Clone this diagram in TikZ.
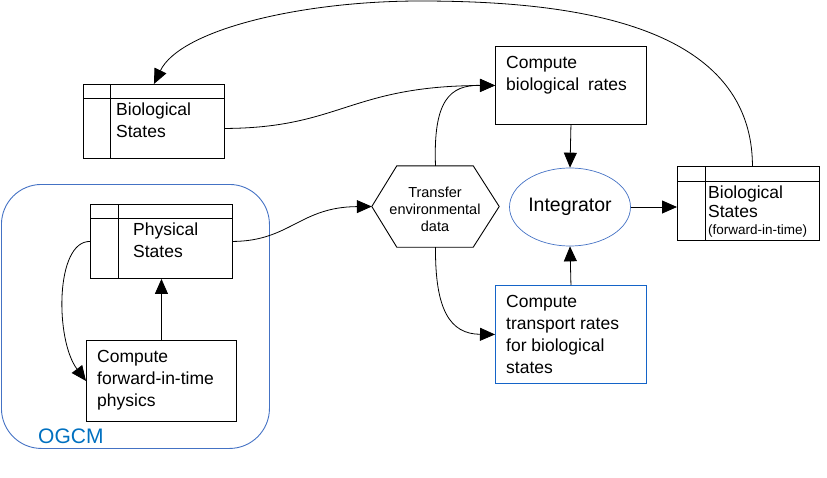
\documentclass[tikz,border=0pt]{standalone}
\usepackage{fontspec}
\setmainfont{Liberation Sans}
\usetikzlibrary{arrows.meta,calc,shapes.geometric}
\definecolor{ogblue}{RGB}{68,114,196}
\definecolor{txtblue}{RGB}{0,112,192}
\definecolor{trblue}{RGB}{20,100,200}
\begin{document}
\begin{tikzpicture}[x=1pt,y=-1pt,
  box/.style={draw=black, line width=0.9pt, rectangle, inner sep=0, anchor=north west},
  arr/.style={-{Triangle[length=15pt,width=13pt]}, line width=0.8pt},
  rule/.style={line width=0.9pt},
  lbl/.style={anchor=north west, inner sep=0, align=left, font=\fontsize{17.5}{22}\selectfont},
]
\useasboundingbox (0,0) rectangle (827,477);

% OGCM container
\node[draw=ogblue, line width=0.9pt, rounded corners=40pt, minimum width=268pt, minimum height=264pt, anchor=north west, inner sep=0] (ogcm) at (1,184) {};
\node[anchor=base west, inner sep=0, text=txtblue, font=\fontsize{21}{24}\selectfont] (ogcmlbl) at (38,443) {OGCM};

% Biological States (top left)
\node[box, minimum width=141pt, minimum height=74pt] (bs) at (83,84) {};
\draw[rule] ($(bs.north west)+(0,14)$) -- ($(bs.north east)+(0,14)$);
\draw[rule] ($(bs.north west)+(27,0)$) -- ($(bs.south west)+(27,0)$);
\node[lbl] (bstxt) at (116,102.4) {Biological\\States};

% Physical States
\node[box, minimum width=142pt, minimum height=74pt] (ps) at (90,204) {};
\draw[rule] ($(ps.north west)+(0,14)$) -- ($(ps.north east)+(0,14)$);
\draw[rule] ($(ps.north west)+(28,0)$) -- ($(ps.south west)+(28,0)$);
\node[lbl] (pstxt) at (133,222.4) {Physical\\States};

% Compute forward-in-time physics
\node[box, minimum width=150pt, minimum height=81pt] (physics) at (86,340) {};
\node[lbl] (phystxt) at (97,350.4) {Compute\\forward-in-time\\physics};

% Compute biological rates
\node[box, minimum width=151pt, minimum height=78pt] (rates) at (495,46) {};
\node[lbl] (ratestxt) at (506,56.4) {Compute\\biological\hspace{4pt} rates};

% Compute transport rates
\node[box, draw=trblue, minimum width=151pt, minimum height=98pt] (transport) at (495,285) {};
\node[lbl] (transtxt) at (506,295.4) {Compute\\transport rates\\for biological\\states};

% Integrator
\node[ellipse, draw=ogblue, line width=0.7pt, minimum width=121pt, minimum height=78pt, inner sep=0, font=\fontsize{19.5}{22}\selectfont] (int) at (570,207) {Integrator};

% Biological States (forward-in-time)
\node[box, minimum width=142pt, minimum height=74pt] (bsf) at (677,166) {};
\draw[rule] ($(bsf.north west)+(0,15)$) -- ($(bsf.north east)+(0,15)$);
\draw[rule] ($(bsf.north west)+(28,0)$) -- ($(bsf.south west)+(28,0)$);
\node[lbl, font=\fontsize{17.5}{19}\selectfont] (bsftxt) at (708,185.4) {Biological\\States};
\node[anchor=base west, inner sep=0, font=\fontsize{13.5}{16}\selectfont] (bsfsmall) at (708,234) {(forward-in-time)};

% Transfer environmental data (hexagon)
\node[minimum width=127pt, minimum height=81pt, inner sep=0] (hex) at (435.5,206.5) {};
\draw[rule] (hex.west) -- ($(hex.north west)+(25,0)$) -- ($(hex.north east)+(-26,0)$) -- (hex.east) -- ($(hex.south east)+(-26,0)$) -- ($(hex.south west)+(25,0)$) -- cycle;
\node[anchor=north, inner sep=0, align=center, font=\fontsize{14.5}{17}\selectfont] (hextxt) at (435,186.5) {Transfer\\environmental\\data};

% connectors
\draw[arr] ($(bsf.north)+(4,0)$) .. controls (752,21) and (565,1) .. (420,1) .. controls (300,1) and (180,30) .. (bs.north);
\draw[arr] ($(bs.east)+(0,7)$) .. controls (340,128) and (350,86) .. (rates.west);
\draw[arr] (hex.north) .. controls (433,100) and (450,85) .. (rates.west);
\draw[arr] (hex.south) .. controls (435,310) and (450,334) .. (transport.west);
\draw[arr] (ps.east) .. controls (290,241) and (300,207) .. (hex.west);
\draw[arr] (ps.west) .. controls (55,241) and (55,340) .. (physics.west);
\draw[arr] (rates.south) -- (int.north);
\draw[arr] (transport.north) -- (int.south);
\draw[arr] (int.east) -- (int.east -| bsf.west);
\draw[arr] (physics.north) -- (ps.south);
\end{tikzpicture}
\end{document}
